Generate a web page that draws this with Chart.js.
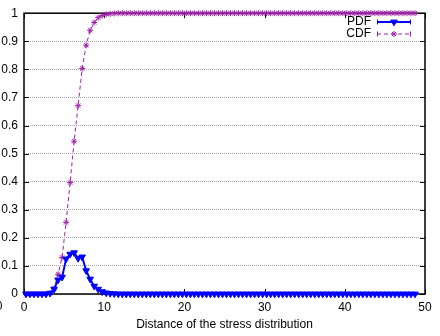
<!DOCTYPE html>
<html>
<head>
<meta charset="utf-8">
<script src="https://cdn.jsdelivr.net/npm/chart.js@4"></script>
<style>
  html, body { margin: 0; padding: 0; background: #fff; }
  #wrap { width: 440px; height: 336px; }
</style>
</head>
<body>
<div id="wrap"><canvas id="distChart" width="440" height="336"></canvas></div>
<script>
// bin centres of the distance histogram
const distance = [
  0.25, 0.75, 1.25, 1.75, 2.25, 2.75, 3.25, 3.75, 4.25, 4.75,
  5.25, 5.75, 6.25, 6.75, 7.25, 7.75, 8.25, 8.75, 9.25, 9.75,
  10.25, 10.75, 11.25, 11.75, 12.25, 12.75, 13.25, 13.75, 14.25, 14.75,
  15.25, 15.75, 16.25, 16.75, 17.25, 17.75, 18.25, 18.75, 19.25, 19.75,
  20.25, 20.75, 21.25, 21.75, 22.25, 22.75, 23.25, 23.75, 24.25, 24.75,
  25.25, 25.75, 26.25, 26.75, 27.25, 27.75, 28.25, 28.75, 29.25, 29.75,
  30.25, 30.75, 31.25, 31.75, 32.25, 32.75, 33.25, 33.75, 34.25, 34.75,
  35.25, 35.75, 36.25, 36.75, 37.25, 37.75, 38.25, 38.75, 39.25, 39.75,
  40.25, 40.75, 41.25, 41.75, 42.25, 42.75, 43.25, 43.75, 44.25, 44.75,
  45.25, 45.75, 46.25, 46.75, 47.25, 47.75, 48.25, 48.75
];

const pdf = [
  0, 0, 0, 0, 0, 0, 0.003, 0.017, 0.05, 0.06,
  0.125, 0.142, 0.147, 0.127, 0.132, 0.083, 0.053, 0.028, 0.017, 0.008,
  0.004, 0.002, 0.001, 0, 0, 0, 0, 0, 0, 0,
  0, 0, 0, 0, 0, 0, 0, 0, 0, 0,
  0, 0, 0, 0, 0, 0, 0, 0, 0, 0,
  0, 0, 0, 0, 0, 0, 0, 0, 0, 0,
  0, 0, 0, 0, 0, 0, 0, 0, 0, 0,
  0, 0, 0, 0, 0, 0, 0, 0, 0, 0,
  0, 0, 0, 0, 0, 0, 0, 0, 0, 0,
  0, 0, 0, 0, 0, 0, 0, 0
];

const cdf = [
  0, 0, 0, 0, 0, 0, 0.003, 0.02, 0.07, 0.13,
  0.255, 0.397, 0.544, 0.671, 0.803, 0.886, 0.939, 0.967, 0.984, 0.992,
  0.996, 0.998, 0.999, 1, 1, 1, 1, 1, 1, 1,
  1, 1, 1, 1, 1, 1, 1, 1, 1, 1,
  1, 1, 1, 1, 1, 1, 1, 1, 1, 1,
  1, 1, 1, 1, 1, 1, 1, 1, 1, 1,
  1, 1, 1, 1, 1, 1, 1, 1, 1, 1,
  1, 1, 1, 1, 1, 1, 1, 1, 1, 1,
  1, 1, 1, 1, 1, 1, 1, 1, 1, 1,
  1, 1, 1, 1, 1, 1, 1, 1
];

const xTicks = [0, 10, 20, 30, 40, 50];
const yTicks = [0, 0.1, 0.2, 0.3, 0.4, 0.5, 0.6, 0.7, 0.8, 0.9, 1];
const yTickLabels = ['0', '0.1', '0.2', '0.3', '0.4', '0.5', '0.6', '0.7', '0.8', '0.9', '1'];

const FONT = 'Liberation Sans, Arial, Helvetica, sans-serif';

const toPoints = (ys) => ys.map((v, i) => ({ x: distance[i], y: v }));

// gnuplot-like frame, inward ticks and key
const gnuplotFrame = {
  id: 'gnuplotFrame',
  beforeDatasetsDraw(chart) {
    const { ctx, chartArea: a, scales: { x, y } } = chart;
    ctx.save();
    ctx.strokeStyle = '#000';
    ctx.setLineDash([]);
    ctx.lineWidth = 1;
    ctx.beginPath();
    xTicks.forEach(v => {
      const px = Math.round(x.getPixelForValue(v)) + 0.5;
      ctx.moveTo(px, a.bottom); ctx.lineTo(px, a.bottom - 5);
      ctx.moveTo(px, a.top); ctx.lineTo(px, a.top + 5);
    });
    yTicks.forEach(v => {
      const py = Math.round(y.getPixelForValue(v)) + 0.5;
      ctx.moveTo(a.left, py); ctx.lineTo(a.left + 5, py);
      ctx.moveTo(a.right, py); ctx.lineTo(a.right - 5, py);
    });
    ctx.stroke();
    ctx.lineWidth = 1.5;
    ctx.strokeRect(a.left, a.top, a.right - a.left, a.bottom - a.top);
    ctx.restore();
  },
  afterDraw(chart) {
    const { ctx } = chart;
    ctx.save();
    ctx.font = '12px ' + FONT;
    ctx.textAlign = 'right';
    ctx.textBaseline = 'middle';
    chart.data.datasets.forEach((ds, i) => {
      const yy = 22 + i * 12;
      ctx.fillStyle = '#000';
      ctx.fillText(ds.label, 371, yy);
      ctx.strokeStyle = ds.borderColor;
      ctx.lineWidth = ds.borderWidth;
      ctx.setLineDash(ds.borderDash || []);
      ctx.beginPath();
      ctx.moveTo(377, yy); ctx.lineTo(411, yy);
      ctx.stroke();
      ctx.setLineDash([]);
      ctx.lineWidth = 1;
      ctx.beginPath();
      ctx.moveTo(377.5, yy - 2.5); ctx.lineTo(377.5, yy + 2.5);
      ctx.moveTo(410.5, yy - 2.5); ctx.lineTo(410.5, yy + 2.5);
      ctx.stroke();
      ctx.fillStyle = ds.pointBackgroundColor;
      ctx.strokeStyle = ds.pointBorderColor;
      ctx.lineWidth = ds.pointBorderWidth;
      Chart.helpers.drawPoint(ctx, {
        pointStyle: ds.pointStyle,
        rotation: ds.pointRotation || 0,
        radius: ds.pointRadius,
        borderWidth: ds.pointBorderWidth
      }, 394, yy);
    });
    // clipped tick label at the left edge
    ctx.fillStyle = '#000';
    ctx.textAlign = 'center';
    ctx.fillText('0', -1, 307);
    ctx.restore();
  }
};

new Chart(document.getElementById('distChart'), {
  type: 'line',
  data: {
    datasets: [
      {
        label: 'PDF',
        data: toPoints(pdf),
        borderColor: '#0000ff',
        borderWidth: 2,
        pointStyle: 'triangle',
        pointRotation: 180,
        pointRadius: 3.8,
        pointBackgroundColor: '#0000ff',
        pointBorderColor: '#0000ff',
        pointBorderWidth: 1,
        tension: 0,
        clip: 6
      },
      {
        label: 'CDF',
        data: toPoints(cdf),
        borderColor: '#9f20a8',
        borderWidth: 1,
        borderDash: [4, 3],
        pointStyle: 'star',
        pointRadius: 3,
        pointBackgroundColor: '#9f20a8',
        pointBorderColor: '#9f20a8',
        pointBorderWidth: 1,
        tension: 0,
        clip: 6
      }
    ]
  },
  options: {
    responsive: false,
    devicePixelRatio: 1,
    animation: false,
    layout: { padding: { top: 11, right: 15, left: 0, bottom: 0 } },
    plugins: {
      legend: { display: false },
      tooltip: { enabled: false }
    },
    scales: {
      x: {
        type: 'linear',
        min: 0,
        max: 50,
        afterFit(s) { s.height = 42; },
        afterBuildTicks(s) { s.ticks = xTicks.map(v => ({ value: v })); },
        grid: { display: false, drawTicks: false },
        border: { display: false },
        ticks: {
          color: '#000',
          font: { family: FONT, size: 12 },
          padding: 6,
          maxRotation: 0
        },
        title: {
          display: true,
          text: 'Distance of the stress distribution',
          color: '#000',
          font: { family: FONT, size: 12 },
          padding: { top: 0, bottom: 4 }
        }
      },
      y: {
        min: 0,
        max: 1,
        afterFit(s) { s.width = 24; },
        afterBuildTicks(s) { s.ticks = yTicks.map(v => ({ value: v })); },
        grid: { color: '#a8a8a8', lineWidth: 1, drawTicks: false },
        border: { display: false, dash: [1, 1] },
        ticks: {
          color: '#000',
          font: { family: FONT, size: 12 },
          padding: 6,
          callback: (v, i) => yTickLabels[i]
        }
      }
    }
  },
  plugins: [gnuplotFrame]
});
</script>
</body>
</html>
